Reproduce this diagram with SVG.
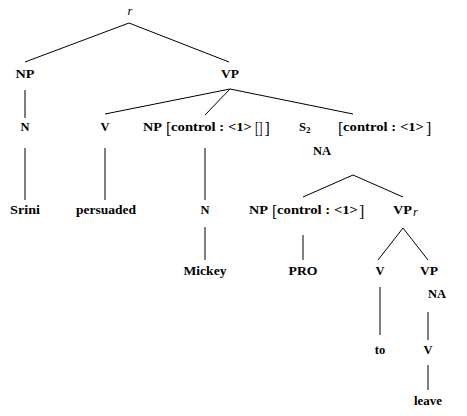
<svg xmlns="http://www.w3.org/2000/svg" width="467" height="416" viewBox="0 0 467 416">
<style>
.t{font-family:"Liberation Serif","Times New Roman",serif;font-weight:bold;font-size:12.5px;text-anchor:middle;fill:#000}
.f{font-family:"Liberation Serif","Times New Roman",serif;font-weight:bold;font-size:12.5px;fill:#000}
.b{font-family:"Liberation Serif","Times New Roman",serif;font-weight:normal;font-size:16px;fill:#000}
.sub{font-size:9px}
.it{font-style:italic;font-weight:normal}
#edges line{stroke:#000;stroke-width:1;fill:none}
</style>
<rect width="467" height="416" fill="#fff"/>
<g id="edges">
<line x1="129" y1="23" x2="25" y2="62"/>
<line x1="129" y1="23" x2="229" y2="62"/>
<line x1="25" y1="90" x2="25" y2="118"/>
<line x1="25" y1="148" x2="25" y2="200"/>
<line x1="230" y1="89" x2="105" y2="114"/>
<line x1="230" y1="89" x2="205" y2="115"/>
<line x1="230" y1="89" x2="353" y2="114"/>
<line x1="105" y1="148" x2="105" y2="200"/>
<line x1="205" y1="148" x2="205" y2="200"/>
<line x1="353" y1="175" x2="303" y2="197"/>
<line x1="353" y1="175" x2="403" y2="197"/>
<line x1="205" y1="227" x2="205" y2="260"/>
<line x1="303" y1="235" x2="303" y2="260"/>
<line x1="403" y1="228" x2="378" y2="260"/>
<line x1="403" y1="228" x2="428" y2="260"/>
<line x1="380" y1="287" x2="380" y2="335"/>
<line x1="428" y1="312" x2="428" y2="340"/>
<line x1="428" y1="365" x2="428" y2="390"/>
</g>
<g id="n_r"><text class="t it" x="130" y="15">r</text></g>
<g id="n_np1"><text class="t" x="25" y="78" textLength="19" lengthAdjust="spacingAndGlyphs">NP</text></g>
<g id="n_vp1"><text class="t" x="230" y="78" textLength="18" lengthAdjust="spacingAndGlyphs">VP</text></g>
<g id="n_n1"><text class="t" x="25" y="131">N</text></g>
<g id="n_v1"><text class="t" x="105" y="131">V</text></g>
<g id="n_np2">
<text class="f" x="143" y="131" textLength="19" lengthAdjust="spacingAndGlyphs">NP</text>
<text class="b" x="166" y="133.5">[</text>
<text class="f" x="171" y="131" textLength="81" lengthAdjust="spacingAndGlyphs">control : &lt;1&gt;</text>
<text class="b" x="255" y="133.5" textLength="7.5" lengthAdjust="spacingAndGlyphs">[]</text>
<text class="b" x="264.5" y="133.5">]</text>
</g>
<g id="n_s2">
<text class="f" x="299" y="131">S<tspan class="sub" dy="2">2</tspan></text>
<text class="b" x="338" y="133.5">[</text>
<text class="f" x="343" y="131" textLength="81" lengthAdjust="spacingAndGlyphs">control : &lt;1&gt;</text>
<text class="b" x="426" y="133.5">]</text>
<text class="t" x="322" y="155">NA</text>
</g>
<g id="n_srini"><text class="t" x="25" y="214" textLength="30" lengthAdjust="spacingAndGlyphs">Srini</text></g>
<g id="n_persuaded"><text class="t" x="106" y="214" textLength="60" lengthAdjust="spacingAndGlyphs">persuaded</text></g>
<g id="n_n2"><text class="t" x="205" y="214">N</text></g>
<g id="n_np3">
<text class="f" x="249" y="214" textLength="19" lengthAdjust="spacingAndGlyphs">NP</text>
<text class="b" x="272" y="216.5">[</text>
<text class="f" x="277" y="214" textLength="81" lengthAdjust="spacingAndGlyphs">control : &lt;1&gt;</text>
<text class="b" x="359" y="216.5">]</text>
</g>
<g id="n_vpr"><text class="f" x="393" y="214" textLength="19" lengthAdjust="spacingAndGlyphs">VP</text><text class="f it" x="413" y="216" font-size="9">r</text></g>
<g id="n_mickey"><text class="t" x="205" y="275" textLength="43" lengthAdjust="spacingAndGlyphs">Mickey</text></g>
<g id="n_pro"><text class="t" x="303" y="275" textLength="29" lengthAdjust="spacingAndGlyphs">PRO</text></g>
<g id="n_v2"><text class="t" x="380" y="275">V</text></g>
<g id="n_vp2"><text class="t" x="429" y="275" textLength="18" lengthAdjust="spacingAndGlyphs">VP</text><text class="t" x="437" y="298">NA</text></g>
<g id="n_to"><text class="t" x="380" y="354">to</text></g>
<g id="n_v3"><text class="t" x="428" y="354">V</text></g>
<g id="n_leave"><text class="t" x="428" y="405" textLength="28" lengthAdjust="spacingAndGlyphs">leave</text></g>
</svg>
